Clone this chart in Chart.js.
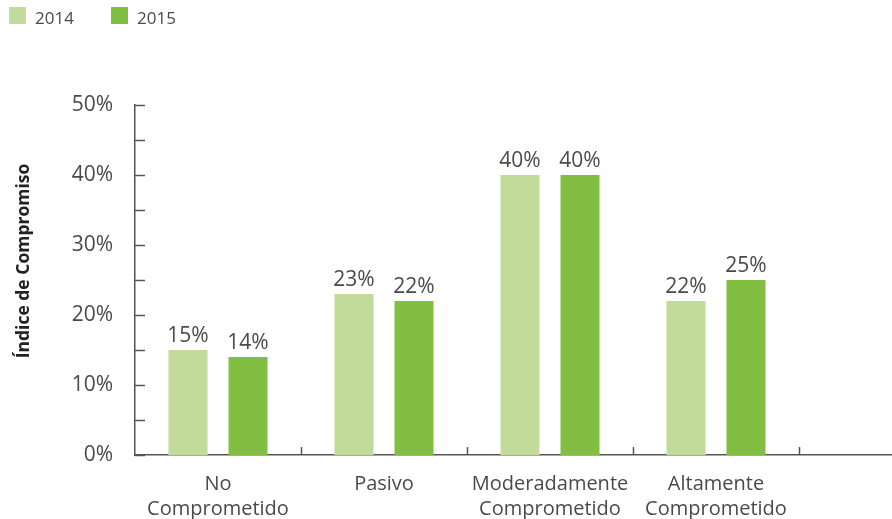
<!DOCTYPE html>
<html>
<head>
<meta charset="utf-8">
<script src="https://cdn.jsdelivr.net/npm/chart.js@4/dist/chart.umd.min.js"></script>
<style>
html,body{margin:0;padding:0;background:#fff;overflow:hidden;}
#wrap{width:975px;height:519px;}
</style>
</head>
<body>
<div id="wrap"><canvas id="c" width="975" height="519"></canvas></div>
<script>
const categories = [['No','Comprometido'], ['Pasivo'], ['Moderadamente','Comprometido'], ['Altamente','Comprometido'], ''];
const seriesNames = ['2014', '2015'];
const values2014 = [15, 23, 40, 22, null];
const values2015 = [14, 22, 40, 25, null];
const yTitle = 'Índice de Compromiso';

const C_LIGHT = '#c2db9b';
const C_DARK = '#82be42';
const TXT = '#4a4a4a';
const AXIS = '#555555';
const FONT = "'Open Sans', sans-serif";

const decorPlugin = {
  id: 'decor',
  afterDraw(chart) {
    const ctx = chart.ctx;
    const y = chart.scales.y, x = chart.scales.x;
    const area = chart.chartArea;
    ctx.save();
    ctx.strokeStyle = AXIS;
    ctx.lineWidth = 1.5;
    y.ticks.forEach((t, i) => {
      const py = Math.round(y.getPixelForTick(i)) + 0.5;
      ctx.beginPath();
      ctx.moveTo(area.left, py);
      ctx.lineTo(area.left + 10, py);
      ctx.stroke();
    });
    for (let i = 1; i < categories.length; i++) {
      const px = Math.round(x.getPixelForValue(i - 0.5)) + 0.5;
      ctx.beginPath();
      ctx.moveTo(px, area.bottom);
      ctx.lineTo(px, area.bottom - 8);
      ctx.stroke();
    }
    ctx.fillStyle = '#222';
    ctx.font = "bold 17.5px " + FONT;
    ctx.textAlign = 'center';
    ctx.textBaseline = 'middle';
    ctx.translate(24, (area.top + area.bottom) / 2 - 19);
    ctx.rotate(-Math.PI / 2);
    ctx.fillText(yTitle, 0, 0);
    ctx.restore();

    ctx.save();
    ctx.font = "17px " + FONT;
    ctx.textBaseline = 'alphabetic';
    ctx.textAlign = 'left';
    const lx = [9, 111];
    chart.data.datasets.forEach((ds, i) => {
      ctx.fillStyle = ds.backgroundColor;
      ctx.fillRect(lx[i], 7, 17, 17);
      ctx.fillStyle = TXT;
      ctx.fillText(ds.label, lx[i] + 26, 24);
    });
    ctx.restore();
  },
  afterDatasetsDraw(chart) {
    const ctx = chart.ctx;
    ctx.save();
    ctx.font = "21px " + FONT;
    ctx.fillStyle = TXT;
    ctx.textAlign = 'center';
    ctx.textBaseline = 'alphabetic';
    chart.data.datasets.forEach((ds, di) => {
      const meta = chart.getDatasetMeta(di);
      meta.data.forEach((el, i) => {
        const v = ds.data[i];
        if (v === null || v === undefined) return;
        ctx.fillText(v + '%', el.x, el.y - 8);
      });
    });
    ctx.restore();
  }
};

new Chart(document.getElementById('c'), {
  type: 'bar',
  data: {
    labels: categories,
    datasets: [
      { label: seriesNames[0], data: values2014, backgroundColor: C_LIGHT, barPercentage: 0.65, categoryPercentage: 0.723 },
      { label: seriesNames[1], data: values2015, backgroundColor: C_DARK, barPercentage: 0.65, categoryPercentage: 0.723 }
    ]
  },
  options: {
    responsive: false,
    animation: false,
    layout: { padding: { top: 105, left: 0, right: 10, bottom: 0 } },
    plugins: { legend: { display: false }, tooltip: { enabled: false } },
    scales: {
      x: {
        grid: { display: false },
        border: { display: true, color: AXIS, width: 1.5 },
        ticks: { color: TXT, font: { family: FONT, size: 20, lineHeight: 1.28 }, padding: 8, maxRotation: 0, autoSkip: false },
        afterFit(s) { s.height = 64; }
      },
      y: {
        min: 0, max: 50,
        grid: { display: false },
        border: { display: true, color: AXIS, width: 1.5 },
        ticks: { stepSize: 5, color: TXT, font: { family: FONT, size: 21 }, padding: 14,
          callback: v => (v % 10 === 0 ? v + '%' : '') },
        afterFit(s) { s.width = 135; }
      }
    }
  },
  plugins: [decorPlugin]
});
</script>
</body>
</html>
